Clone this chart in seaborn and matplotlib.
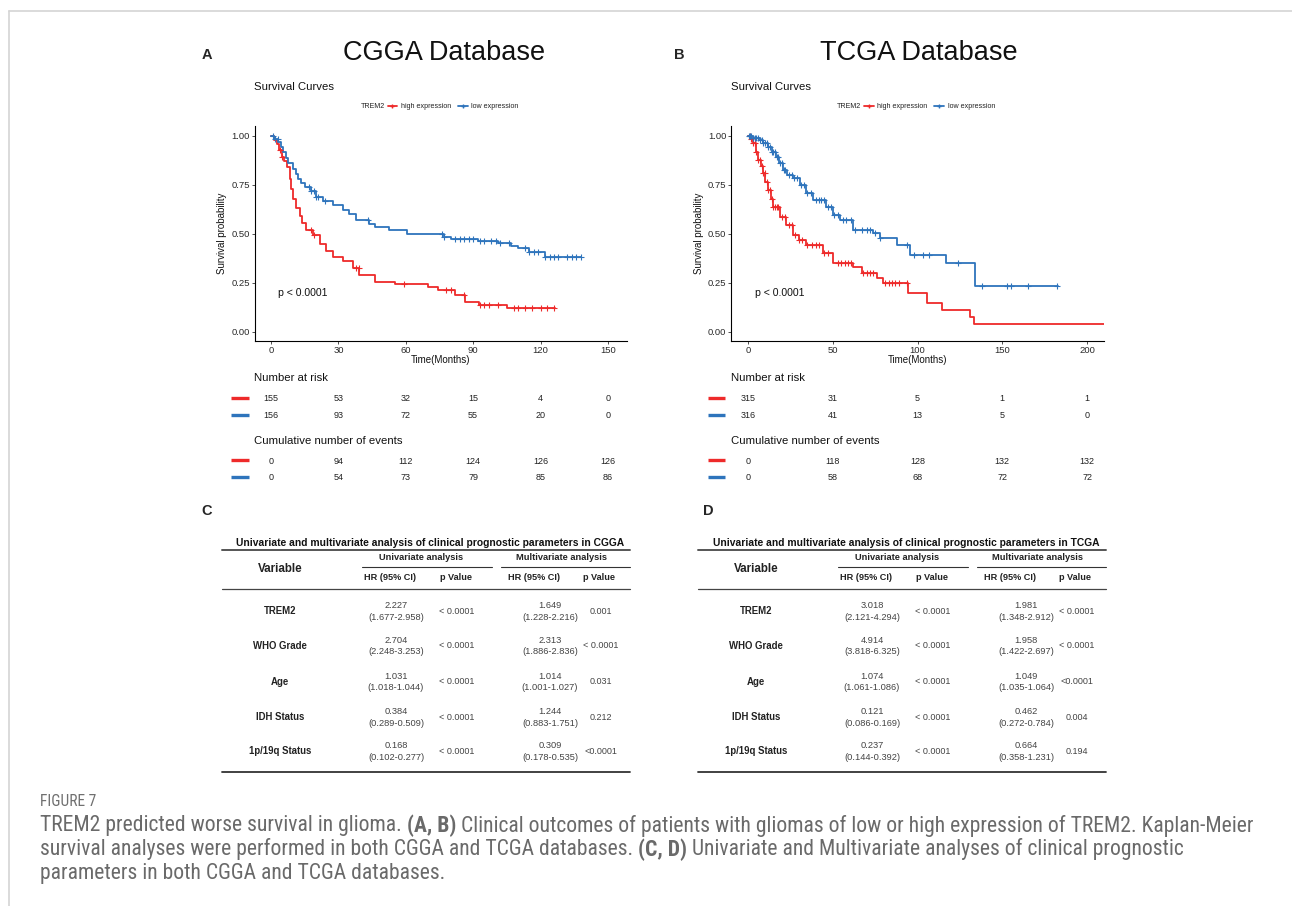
import numpy as np
import pandas as pd
import matplotlib
matplotlib.use("Agg")
import matplotlib.pyplot as plt
import matplotlib.transforms as mtrans
from matplotlib.lines import Line2D
from matplotlib import font_manager
import seaborn as sns

sns.set_theme(style="white")
plt.rcParams["font.family"] = ["Liberation Sans", "DejaVu Sans"]

# ---------------------------------------------------------------- data
RED = "#EE2A2A"
BLUE = "#2E74BC"

# CGGA (panel A)
cgga_high_t = [0, 1.5, 2.5, 3.5, 4.7, 6, 7.2, 8.4, 9.1, 9.8, 11, 12.8, 14, 15.7, 18.6, 21.6, 24.5,
               27.5, 31.9, 36.3, 39.2, 46.5, 55.4, 70, 74.4, 81.8, 86.2, 92.8, 105, 126.6]
cgga_high_s = [1.0, 0.98, 0.96, 0.93, 0.895, 0.87, 0.84, 0.78, 0.73, 0.68, 0.635, 0.59, 0.555, 0.52,
               0.495, 0.45, 0.415, 0.385, 0.36, 0.325, 0.29, 0.255, 0.245, 0.23, 0.215, 0.19, 0.155,
               0.14, 0.12, 0.12]
cgga_high_cens = [4, 5, 18, 19, 38, 39, 59, 78, 80, 86, 93, 95, 97, 101, 108, 110, 113, 116, 120, 123, 126]

cgga_low_t = [0, 1.5, 3.2, 4.5, 5.4, 6.5, 7.6, 9.8, 11, 12, 13.5, 15, 17.9, 20, 23, 27.5, 31.9, 34.8,
              37.8, 43.6, 46.5, 52.4, 60.5, 77, 80, 92, 101, 106.9, 110, 114.8, 122, 138]
cgga_low_s = [1.0, 0.985, 0.97, 0.945, 0.92, 0.89, 0.86, 0.83, 0.805, 0.78, 0.76, 0.74, 0.72, 0.69,
              0.67, 0.65, 0.62, 0.60, 0.57, 0.55, 0.535, 0.52, 0.50, 0.485, 0.475, 0.465, 0.455, 0.44,
              0.43, 0.41, 0.385, 0.385]
cgga_low_cens = [1, 2, 3, 17, 18, 19, 20, 21, 24, 43, 76, 77, 82, 84, 86, 88, 90, 93, 95, 98, 100, 102,
                 106, 113, 115, 117, 119, 122, 124, 126, 128, 132, 134, 136, 138]

# TCGA (panel B)
tcga_high_t = [0, 1.5, 3, 4.5, 5.9, 7.5, 8.9, 10.3, 11.8, 13.3, 14.8, 18.7, 22.7, 26.6, 30, 34.5, 44.3,
               50.2, 62, 67, 75.9, 79.8, 94.6, 105.4, 114.3, 131, 133.4, 210]
tcga_high_s = [1.0, 0.985, 0.963, 0.92, 0.878, 0.845, 0.81, 0.765, 0.724, 0.68, 0.64, 0.588, 0.546,
               0.495, 0.47, 0.444, 0.401, 0.35, 0.333, 0.3, 0.274, 0.252, 0.197, 0.146, 0.112, 0.078,
               0.039, 0.039]
tcga_high_cens = [1, 2, 3, 4, 5, 6, 7, 8, 9, 10, 11, 12, 13, 14, 15, 16, 17, 18, 20, 22, 24, 26, 28, 30,
                  32, 35, 38, 40, 42, 45, 47, 53, 55, 57, 59, 61, 68, 70, 72, 74, 81, 83, 85, 87, 89, 94]

tcga_low_t = [0, 3, 6.9, 9, 11.8, 14, 16.7, 18.5, 20.7, 23, 26.6, 30.5, 34.5, 38.4, 46.3, 50.2, 54.2,
              62, 73.9, 77.8, 87.7, 95.6, 117, 134, 183]
tcga_low_s = [1.0, 0.99, 0.98, 0.965, 0.946, 0.92, 0.895, 0.86, 0.827, 0.80, 0.784, 0.75, 0.707, 0.673,
              0.64, 0.597, 0.57, 0.52, 0.503, 0.478, 0.444, 0.393, 0.354, 0.236, 0.236]
tcga_low_cens = [0.5, 1, 2, 3, 4, 5, 6, 7, 8, 9, 10, 11, 12, 13, 14, 15, 16, 17, 18, 19, 20, 21, 22, 24,
                 26, 27, 29, 31, 33, 35, 37, 40, 42, 43, 45, 47, 49, 51, 53, 56, 58, 61, 63, 67, 70, 72,
                 75, 78, 94, 98, 103, 107, 124, 138, 153, 155, 165, 182]

cgga_times = [0, 30, 60, 90, 120, 150]
cgga_risk_high = [155, 53, 32, 15, 4, 0]
cgga_risk_low = [156, 93, 72, 55, 20, 0]
cgga_evt_high = [0, 94, 112, 124, 126, 126]
cgga_evt_low = [0, 54, 73, 79, 85, 86]

tcga_times = [0, 50, 100, 150, 200]
tcga_risk_high = [315, 31, 5, 1, 1]
tcga_risk_low = [316, 41, 13, 5, 0]
tcga_evt_high = [0, 118, 128, 132, 132]
tcga_evt_low = [0, 58, 68, 72, 72]

variables = ["TREM2", "WHO Grade", "Age", "IDH Status", "1p/19q Status"]
cgga_uni_hr = ["2.227", "2.704", "1.031", "0.384", "0.168"]
cgga_uni_ci = ["(1.677-2.958)", "(2.248-3.253)", "(1.018-1.044)", "(0.289-0.509)", "(0.102-0.277)"]
cgga_uni_p = ["< 0.0001", "< 0.0001", "< 0.0001", "< 0.0001", "< 0.0001"]
cgga_multi_hr = ["1.649", "2.313", "1.014", "1.244", "0.309"]
cgga_multi_ci = ["(1.228-2.216)", "(1.886-2.836)", "(1.001-1.027)", "(0.883-1.751)", "(0.178-0.535)"]
cgga_multi_p = ["0.001", "< 0.0001", "0.031", "0.212", "<0.0001"]

tcga_uni_hr = ["3.018", "4.914", "1.074", "0.121", "0.237"]
tcga_uni_ci = ["(2.121-4.294)", "(3.818-6.325)", "(1.061-1.086)", "(0.086-0.169)", "(0.144-0.392)"]
tcga_uni_p = ["< 0.0001", "< 0.0001", "< 0.0001", "< 0.0001", "< 0.0001"]
tcga_multi_hr = ["1.981", "1.958", "1.049", "0.462", "0.664"]
tcga_multi_ci = ["(1.348-2.912)", "(1.422-2.697)", "(1.035-1.064)", "(0.272-0.784)", "(0.358-1.231)"]
tcga_multi_p = ["< 0.0001", "< 0.0001", "<0.0001", "0.004", "0.194"]

# ---------------------------------------------------------------- figure
W, H = 1292, 906
fig = plt.figure(figsize=(W / 100, H / 100), dpi=100)
fig.patch.set_facecolor("white")


def fx(px):
    return px / W


def fy(py):
    return 1 - py / H


def ftext(x, y, s, **kw):
    return fig.text(fx(x), fy(y), s, **kw)


def fline(x0, x1, y0, y1, **kw):
    fig.add_artist(Line2D([fx(x0), fx(x1)], [fy(y0), fy(y1)], transform=fig.transFigure, **kw))


# frame
fline(9, W, 11, 11, color="#d4d4d4", lw=1.2)
fline(9, 9, 11, H, color="#d4d4d4", lw=1.2)


def km_panel(left, right, curves, xlim, xticks, times, risk, events, title, title_x, letter, letter_x):
    top, bottom = 126, 341
    ax = fig.add_axes([fx(left), fy(bottom), fx(right) - fx(left), fy(top) - fy(bottom)])
    for t, s, cens, color in curves:
        t = np.asarray(t, float)
        s = np.asarray(s, float)
        df = pd.DataFrame({"time": t, "surv": s})
        sns.lineplot(data=df, x="time", y="surv", drawstyle="steps-post", color=color, lw=1.3,
                     ax=ax, estimator=None, sort=False)
        c = np.asarray(cens, float)
        cy = s[np.clip(np.searchsorted(t, c, side="right") - 1, 0, len(s) - 1)]
        sns.scatterplot(x=c, y=cy, marker="+", color=color, s=14, linewidth=0.8, ax=ax, zorder=3)
    ax.set_xlim(*xlim)
    ax.set_ylim(-0.046, 1.051)
    ax.set_xticks(xticks)
    ax.set_yticks([0, 0.25, 0.5, 0.75, 1.0])
    ax.set_yticklabels(["0.00", "0.25", "0.50", "0.75", "1.00"])
    for sp in ["top", "right"]:
        ax.spines[sp].set_visible(False)
    for sp in ["left", "bottom"]:
        ax.spines[sp].set_color("black")
        ax.spines[sp].set_linewidth(0.8)
    ax.tick_params(direction="out", length=2.2, width=0.6, color="#333333", labelsize=6.8,
                   labelcolor="#2a2a2a", pad=1.2, left=True, bottom=True)
    ax.set_xlabel("Time(Months)", fontsize=7, labelpad=0.5, color="#111111")
    ax.set_ylabel("Survival probability", fontsize=7, labelpad=3, color="#111111")
    ax.text(xticks[0] + (xlim[1] - xlim[0]) * 0.02, 0.2, "p < 0.0001", fontsize=7.6, va="center",
            ha="left", color="#111111")
    ax.grid(False)

    # titles
    ftext(title_x, 53, title, fontsize=19.5, ha="center", va="center", color="#111111")
    ftext(letter_x, 55, letter, fontsize=10.5, fontweight="bold", ha="center", va="center")
    ftext(left, 87, "Survival Curves", fontsize=8.2, ha="left", va="center", color="#111111")

    # legend
    ftext(left + 106, 107, "TREM2", fontsize=5.1, ha="left", va="center", color="#222222")
    handles = [Line2D([], [], color=RED, lw=1.3, marker="+", markersize=3.5),
               Line2D([], [], color=BLUE, lw=1.3, marker="+", markersize=3.5)]
    fig.legend(handles, ["high expression", "low expression"], ncol=2, loc="center left",
               bbox_to_anchor=(fx(left + 133), fy(107)), frameon=False, fontsize=5.1,
               handlelength=1.4, handletextpad=0.5, columnspacing=0.9, borderpad=0, borderaxespad=0,
               labelcolor="#222222")

    # risk tables
    tr = mtrans.blended_transform_factory(ax.transData, fig.transFigure)
    ftext(left, 378, "Number at risk", fontsize=8.2, ha="left", va="center", color="#111111")
    ftext(left, 441, "Cumulative number of events", fontsize=8.2, ha="left", va="center",
          color="#111111")
    rows = [(399, risk[0], RED), (416, risk[1], BLUE), (461, events[0], RED), (478, events[1], BLUE)]
    for y, vals, color in rows:
        fline(left - 23.5, left - 6, y - 1, y - 1, color=color, lw=2.4, solid_capstyle="butt")
        for tt, v in zip(times, vals):
            fig.text(tt, fy(y), str(v), transform=tr, fontsize=6.5, ha="center", va="center",
                     color="#222222")
    return ax


km_panel(254.5, 627,
         [(cgga_high_t, cgga_high_s, cgga_high_cens, RED), (cgga_low_t, cgga_low_s, cgga_low_cens, BLUE)],
         (-7.34, 158.5), [0, 30, 60, 90, 120, 150], cgga_times,
         (cgga_risk_high, cgga_risk_low), (cgga_evt_high, cgga_evt_low),
         "CGGA Database", 444.5, "A", 207)
km_panel(731, 1104,
         [(tcga_high_t, tcga_high_s, tcga_high_cens, RED), (tcga_low_t, tcga_low_s, tcga_low_cens, BLUE)],
         (-10.0, 210), [0, 50, 100, 150, 200], tcga_times,
         (tcga_risk_high, tcga_risk_low), (tcga_evt_high, tcga_evt_low),
         "TCGA Database", 919, "B", 679)


# ---------------------------------------------------------------- tables
def table(dx, title, uhr, uci, up, mhr, mci, mp, letter, letter_x):
    ftext(letter_x, 511, letter, fontsize=10.5, fontweight="bold", ha="center", va="center")
    x0, x1 = 222 + dx, 630 + dx
    ftext((x0 + x1) / 2 + 4, 543, title, fontsize=7.4, fontweight="bold", ha="center", va="center",
          color="#111111")
    fline(x0, x1, 550, 550, color="#555555", lw=1.4)
    fline(x0, x1, 589, 589, color="#444444", lw=0.9)
    fline(x0, x1, 772, 772, color="#333333", lw=1.3)
    fline(362 + dx, 492 + dx, 567, 567, color="#333333", lw=0.8)
    fline(501 + dx, x1, 567, 567, color="#333333", lw=0.8)
    ftext(280 + dx, 569, "Variable", fontsize=8.4, fontweight="bold", ha="center", va="center",
          color="#222222")
    ftext(421 + dx, 558, "Univariate analysis", fontsize=6.7, fontweight="bold", ha="center",
          va="center", color="#222222")
    ftext(562 + dx, 558, "Multivariate analysis", fontsize=6.7, fontweight="bold", ha="center",
          va="center", color="#222222")
    for xc, s in [(390, "HR (95% CI)"), (456, "p Value"), (534, "HR (95% CI)"), (599, "p Value")]:
        ftext(xc + dx, 578, s, fontsize=6.6, fontweight="bold", ha="center", va="center",
              color="#222222")
    rows_y = [611, 646, 682, 717, 751]
    for i, y in enumerate(rows_y):
        ftext(280 + dx, y, variables[i], fontsize=6.9, fontweight="bold", ha="center", va="center",
              color="#222222")
        ftext(396 + dx, y - 5.5, uhr[i], fontsize=6.7, ha="center", va="center", color="#444444")
        ftext(396 + dx, y + 6, uci[i], fontsize=6.7, ha="center", va="center", color="#444444")
        ftext(457 + dx, y, up[i], fontsize=6.5, ha="center", va="center", color="#444444")
        ftext(550 + dx, y - 5.5, mhr[i], fontsize=6.7, ha="center", va="center", color="#444444")
        ftext(550 + dx, y + 6, mci[i], fontsize=6.7, ha="center", va="center", color="#444444")
        ftext(601 + dx, y, mp[i], fontsize=6.5, ha="center", va="center", color="#444444")


table(0, "Univariate and multivariate analysis of clinical prognostic parameters in CGGA",
      cgga_uni_hr, cgga_uni_ci, cgga_uni_p, cgga_multi_hr, cgga_multi_ci, cgga_multi_p, "C", 207)
table(476, "Univariate and multivariate analysis of clinical prognostic parameters in TCGA",
      tcga_uni_hr, tcga_uni_ci, tcga_uni_p, tcga_multi_hr, tcga_multi_ci, tcga_multi_p, "D", 708)

# ---------------------------------------------------------------- caption
avail = {f.name for f in font_manager.fontManager.ttflist}
cap_family = next((f for f in ["Liberation Sans Narrow", "Roboto Condensed", "Open Sans Condensed",
                               "Roboto", "Open Sans"] if f in avail), "DejaVu Sans")
renderer = fig.canvas.get_renderer()
CAP_COLOR = "#6a6a6a"


def measure(s, size, bold):
    t = fig.text(0, 0, s, fontsize=size, fontweight="bold" if bold else "normal", family=cap_family)
    w = t.get_window_extent(renderer).width
    t.remove()
    return w


def rich(x, y, parts, size, draw=True):
    space = measure("a a", size, False) - measure("aa", size, False)
    start = x
    for i, (txt, bold) in enumerate(parts):
        if i > 0:
            x += space
        if draw:
            fig.text(fx(x), fy(y), txt, fontsize=size, fontweight="bold" if bold else "normal",
                     family=cap_family, color=CAP_COLOR, ha="left", va="center")
        x += measure(txt, size, bold)
    return x - start


line1 = [("TREM2 predicted worse survival in glioma.", False), ("(A, B)", True),
         ("Clinical outcomes of patients with gliomas of low or high expression of TREM2. Kaplan-Meier", False)]
line2 = [("survival analyses were performed in both CGGA and TCGA databases.", False), ("(C, D)", True),
         ("Univariate and Multivariate analyses of clinical prognostic", False)]
line3 = [("parameters in both CGGA and TCGA databases.", False)]

w10 = rich(40, 826, line1, 10, draw=False)
cap_size = 10 * (1208 / w10)
ftext(40, 801, "FIGURE 7", fontsize=cap_size * 0.72, family=cap_family, color="#707070",
      ha="left", va="center")
rich(40, 826, line1, cap_size)
rich(40, 849.5, line2, cap_size)
rich(40, 873, line3, cap_size)

fig.savefig("out.png", dpi=100, facecolor="white")
